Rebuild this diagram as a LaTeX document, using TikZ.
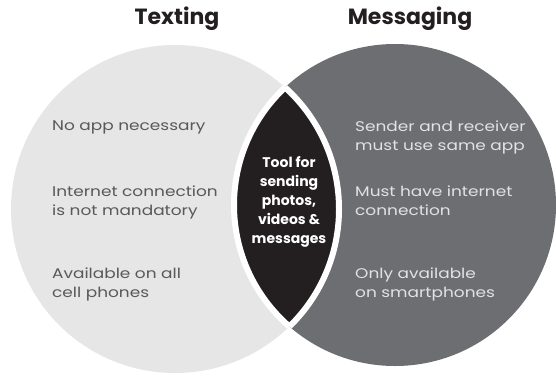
\documentclass[tikz,border=0pt]{standalone}
\usepackage{fontspec}
\setmainfont{Poppins}
\newfontfamily\itemfont{Poppins}[FakeStretch=1.21]
\definecolor{textingfill}{HTML}{E6E6E7}
\definecolor{messagingfill}{HTML}{6D6E71}
\definecolor{overlapfill}{HTML}{231F20}
\definecolor{textinggray}{HTML}{58595B}
\definecolor{messaginggray}{HTML}{E2E2E3}
\tikzset{
  title/.style={font=\fontsize{22}{26}\selectfont\bfseries, text=overlapfill},
  item/.style={anchor=north west, inner sep=0pt, align=left,
    font=\itemfont\fontsize{14}{19}\selectfont},
  overlap/.style={inner sep=0pt, align=center, text=white,
    font=\fontsize{14}{19}\selectfont\bfseries}
}
\begin{document}
\begin{tikzpicture}[x=1pt,y=-1pt]
        \useasboundingbox (0,0) rectangle (556,375);
        % circles
        \fill[textingfill] (175,209) circle (164pt);
        \fill[messagingfill] (395,205) circle (161pt);
        % overlap
        \begin{scope}
          \clip (175,209) circle (164pt);
          \fill[overlapfill] (395,205) circle (161pt);
          \draw[white, line width=6pt] (395,205) circle (161pt);
        \end{scope}
        \begin{scope}
          \clip (395,205) circle (161pt);
          \draw[white, line width=6pt] (175,209) circle (164pt);
        \end{scope}
        % titles
        \node[title] (texting) at (177,19) {Texting};
        \node[title] (messaging) at (410,19) {Messaging};
        % texting side
        \node[item, text=textinggray] (noapp) at (52,121) {No app necessary};
        \node[item, text=textinggray] (internet) at (52,186) {Internet connection\\is not mandatory};
        \node[item, text=textinggray] (allphones) at (52,268) {Available on all\\cell phones};
        % messaging side
        \node[item, text=messaginggray] (sameapp) at (355,121) {Sender and receiver\\must use same app};
        \node[item, text=messaginggray] (needsnet) at (355,186) {Must have internet\\connection};
        \node[item, text=messaginggray] (smartphones) at (355,268) {Only available\\on smartphones};
        % both
        \node[overlap] (tool) at (289,202) {Tool for\\sending\\photos,\\videos \&\\messages};
\end{tikzpicture}
\end{document}
